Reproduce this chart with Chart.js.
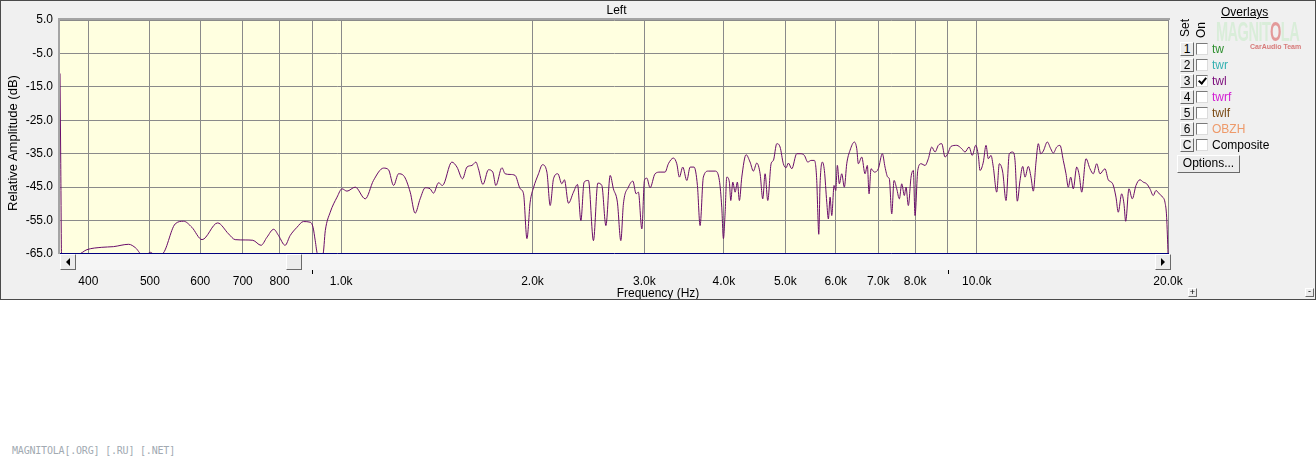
<!DOCTYPE html>
<html>
<head>
<meta charset="utf-8">
<script src="https://cdn.jsdelivr.net/npm/chart.js@4.4.0/dist/chart.umd.min.js"></script>
<style>
body { margin:0; background:#fff; font-family:"Liberation Sans", Arial, sans-serif; font-size:12px; color:#000; }
#wrap { position:relative; width:1316px; height:300px; background:#f0f0f0; overflow:hidden; }
#wrap canvas { position:absolute; left:0; top:0; }
.abs { position:absolute; white-space:nowrap; line-height:14px; }
.frame { position:absolute; left:0; top:0; width:1316px; height:300px; box-sizing:border-box; border:1px solid #4a4a4a; pointer-events:none; }
.btn { position:absolute; box-sizing:border-box; background:#ececec; border:1px solid; border-color:#fff #6a6a6a #6a6a6a #fff; text-align:center; }
.chk { position:absolute; box-sizing:border-box; width:12px; height:12px; background:#fff; border:1px solid; border-color:#7a7a7a #dcdcdc #dcdcdc #7a7a7a; }
.tick { position:absolute; left:3px; top:0px; width:3px; height:6px; border-right:2px solid #000; border-bottom:2px solid #000; transform:rotate(40deg); }
.rot { position:absolute; text-align:center; transform:rotate(-90deg); line-height:14px; white-space:nowrap; }
.tri { position:absolute; width:0; height:0; border-top:4px solid transparent; border-bottom:4px solid transparent; }
#mark { position:absolute; left:12px; top:445px; font-family:"DejaVu Sans Mono", monospace; font-size:10px; color:#a2aab2; letter-spacing:-0.2px; }
</style>
</head>
<body>
<div id="wrap">
  <canvas id="resp" width="1316" height="300"></canvas>

  <div class="abs" style="left:62px;width:1109px;top:3px;text-align:center;">Left</div>
  <div class="rot" style="left:-87px;top:136px;width:200px;height:14px;font-size:13px;">Relative Amplitude (dB)</div>
  <div class="abs" style="left:558px;width:200px;top:286px;text-align:center;">Frequency (Hz)</div>

  <!-- scrollbar under the plot -->
  <div class="abs" style="left:60px;top:254px;width:1110px;height:16px;background:#f5f5f5;"></div>
  <div class="btn" style="left:60px;top:254px;width:16px;height:16px;"><div class="tri" style="left:5px;top:3px;border-right:4px solid #000;"></div></div>
  <div class="btn" style="left:286px;top:254px;width:16px;height:16px;"></div>
  <div class="btn" style="left:1155px;top:254px;width:16px;height:16px;"><div class="tri" style="left:5px;top:3px;border-left:4px solid #000;"></div></div>

  <!-- overlays panel -->
  <div class="abs" style="left:1221px;top:5px;text-decoration:underline;">Overlays</div>
  <div class="abs" style="left:1216px;top:17px;font-size:27px;line-height:30px;font-weight:bold;color:#d9edd9;letter-spacing:-1px;transform:scaleX(0.54);transform-origin:left top;">MAGNIT<span style="color:#e39a9a">O</span>LA</div>
  <div class="abs" style="left:1250px;top:40px;font-size:7px;font-weight:bold;color:#d77a7a;">CarAudio Team</div>
  <div class="rot" style="left:1170px;top:21px;width:30px;height:14px;">Set</div>
  <div class="rot" style="left:1186px;top:23px;width:30px;height:14px;">On</div>
  <div id="rows"></div>
  <div class="btn" style="left:1177px;top:155px;width:63px;height:18px;line-height:15px;">Options...</div>
  <div class="btn" style="left:1188px;top:288px;width:9px;height:9px;font-size:9px;line-height:6px;">+</div>
  <div class="btn" style="left:1305px;top:288px;width:9px;height:9px;font-size:9px;line-height:5px;">-</div>

  <div class="frame"></div>
</div>
<div id="mark">MAGNITOLA[.ORG] [.RU] [.NET]</div>

<script>
// overlay list on the right
const overlayKeys = ['1', '2', '3', '4', '5', '6', 'C'];
const overlayNames = ['tw', 'twr', 'twl', 'twrf', 'twlf', 'OBZH', 'Composite'];
const overlayColors = ['#2f8f2f', '#34b0b0', '#7a0a7a', '#d21ed2', '#7a4a14', '#ee9a6a', '#000'];
const overlayOn = [false, false, true, false, false, false, false];

// x axis (Hz)
const xTicks = [400, 500, 600, 700, 800, 900, 1000, 2000, 3000, 4000, 5000, 6000, 7000, 8000, 9000, 10000, 20000];
const xLabels = ['400', '500', '600', '700', '800', '', '1.0k', '2.0k', '3.0k', '4.0k', '5.0k', '6.0k', '7.0k', '8.0k', '', '10.0k', '20.0k'];
const unlabeledMarks = [900, 9000];
// y axis (dB)
const yTicks = [5, -5, -15, -25, -35, -45, -55, -65];

// twl response
const freq = [
  361, 362, 363, 386, 398, 420, 438, 463, 475, 485, 495, 501, 507, 522, 548, 565, 582, 604, 639, 665,
  681, 706, 726, 748, 764, 783, 797, 816, 831, 852, 872, 894, 903, 910, 918, 936, 944, 961, 985, 1003,
  1021, 1052, 1091, 1124, 1166, 1187, 1209, 1231, 1253, 1284, 1307, 1331, 1356, 1380, 1397, 1423, 1443, 1493, 1521, 1552,
  1577, 1606, 1629, 1644, 1671, 1705, 1732, 1751, 1790, 1811, 1844, 1878, 1913, 1936, 1960, 1983, 2007, 2044, 2073, 2107,
  2132, 2158, 2192, 2224, 2245, 2278, 2320, 2354, 2383, 2411, 2449, 2494, 2534, 2571, 2609, 2650, 2681, 2720, 2754, 2780,
  2831, 2877, 2911, 2935, 2972, 3000, 3026, 3062, 3118, 3175, 3233, 3272, 3332, 3373, 3405, 3447, 3498, 3540, 3591, 3635,
  3670, 3714, 3782, 3875, 3936, 3970, 3994, 4018, 4043, 4081, 4102, 4132, 4167, 4201, 4232, 4269, 4336, 4399, 4452, 4507,
  4562, 4606, 4645, 4690, 4747, 4787, 4846, 4904, 4963, 5012, 5054, 5116, 5210, 5273, 5355, 5422, 5487, 5553, 5601, 5622,
  5642, 5669, 5716, 5758, 5808, 5842, 5878, 5914, 5964, 6000, 6035, 6079, 6132, 6190, 6244, 6319, 6419, 6475, 6512, 6593,
  6672, 6728, 6770, 6819, 6901, 7001, 7104, 7173, 7244, 7286, 7350, 7411, 7484, 7555, 7621, 7693, 7740, 7805, 7882, 7948,
  7997, 8076, 8173, 8292, 8392, 8496, 8598, 8701, 8809, 8915, 9002, 9111, 9301, 9471, 9585, 9725, 9841, 9963, 10058, 10120,
  10242, 10342, 10429, 10531, 10619, 10751, 10853, 10987, 11119, 11253, 11392, 11488, 11584, 11698, 11813, 11912, 12055, 12173, 12275, 12396,
  12500, 12609, 12728, 12914, 13074, 13198, 13361, 13522, 13684, 13819, 13934, 14056, 14189, 14365, 14501, 14628, 14857, 15074, 15255, 15444,
  15630, 15915, 16106, 16365, 16562, 16700, 16907, 17049, 17154, 17360, 17569, 17806, 18066, 18283, 18510, 18732, 18958, 19144, 19374, 19614,
  19778, 19900, 20000
];
const twl = [
  -11, -38, -65, -65, -63.7, -63.0, -62.8, -62.1, -63.2, -65, -65, -64.5, -65, -65, -56, -55.2, -57, -60.7, -55.7, -59,
  -60.7, -60.8, -60.9, -62.4, -60, -57.6, -59.5, -62.4, -59.5, -57, -55.3, -55.5, -57, -60.9, -65, -65, -58, -52.5, -48, -45.5,
  -46.2, -45, -48.5, -43, -39.3, -39.8, -44.5, -41, -41.5, -46.5, -52.8, -48.5, -45.2, -45.5, -46.8, -43.7, -44.5, -37.5, -39, -42.5,
  -39, -38.5, -37.5, -39.5, -44.2, -39.8, -40.5, -44.5, -39.2, -41, -41.2, -41.5, -45.5, -47, -60.4, -49.5, -45.2, -41, -38.3, -40.5,
  -50.5, -42.5, -41, -44, -42.8, -49.8, -46.5, -44.2, -55, -43.5, -43, -61, -43.8, -44.5, -56.5, -41.5, -45.5, -49.5, -61, -50,
  -45, -43.2, -47, -46.5, -57.5, -43, -42.3, -45.2, -41, -40.5, -40.5, -38, -36.3, -38, -42, -39, -43, -39, -39, -44.5,
  -56.5, -42, -40.2, -40.2, -43, -51, -60.4, -53, -42, -43.5, -49, -43.5, -46.5, -43.5, -49, -42, -35.3, -37.5, -40.2, -37.8,
  -41, -48.5, -41, -49, -38, -37, -32, -33, -38, -39.2, -37.8, -39.5, -35, -35, -35.5, -37.5, -37, -37, -43, -52.5,
  -59.1, -44, -37.5, -40, -49.5, -54.5, -48, -53.5, -44.5, -46, -38.5, -44, -41, -45, -38, -34, -31.5, -33.5, -38, -36,
  -41, -38.5, -47, -39.5, -40.5, -39.5, -35, -39, -42, -42.5, -53, -43, -45.5, -48.5, -44, -47.5, -45, -50.5, -42, -40,
  -53.5, -40, -38, -38.5, -36.5, -33, -34.5, -32.5, -32, -36, -35, -32.8, -32.5, -33.5, -34.5, -33, -35.5, -32.5, -35.5, -40,
  -37.5, -32.5, -36.5, -35.5, -39, -46.5, -38, -40.5, -49, -35, -34.5, -37, -49.2, -43, -38.8, -42, -38.8, -42, -46.2, -37.5,
  -32, -35, -34.2, -31.5, -33.5, -34.8, -33, -32.5, -37, -41, -45, -42, -45.5, -39, -41.5, -46.5, -36.5, -39.5, -41, -38,
  -41, -39.5, -42.8, -44, -48, -52.5, -47, -50, -55.2, -45.5, -48.5, -44.5, -42.8, -43.5, -44, -45.5, -47.5, -46, -47, -48,
  -49.5, -54, -65
];

// build the overlay rows
const rows = document.getElementById('rows');
overlayKeys.forEach((k, i) => {
  const top = 42 + i * 16;
  rows.insertAdjacentHTML('beforeend',
    `<div class="btn" style="left:1180px;top:${top}px;width:14px;height:14px;line-height:12px;font-size:12px;">${k}</div>` +
    `<div class="chk" style="left:1196px;top:${top + 1}px;">${overlayOn[i] ? '<div class="tick"></div>' : ''}</div>` +
    `<div class="abs" style="left:1212px;top:${top}px;color:${overlayColors[i]};">${overlayNames[i]}</div>`);
});

const FONT = { family: '"Liberation Sans", Arial, sans-serif', size: 12 };

const plotDecor = {
  id: 'plotDecor',
  beforeDraw(chart) {
    const { ctx, chartArea: a } = chart;
    ctx.save();
    ctx.fillStyle = '#ffffe0';
    ctx.fillRect(a.left, a.top, a.right - a.left, a.bottom - a.top);
    ctx.restore();
  },
  afterDraw(chart) {
    const { ctx, chartArea: a } = chart;
    const xs = chart.scales.x;
    ctx.save();
    // frame top / left
    ctx.strokeStyle = '#a4a4a4';
    ctx.lineWidth = 2;
    ctx.beginPath();
    ctx.moveTo(a.left - 1, a.bottom);
    ctx.lineTo(a.left - 1, a.top - 1);
    ctx.lineTo(a.right + 1, a.top - 1);
    ctx.stroke();
    // blue floor line
    ctx.strokeStyle = '#000080';
    ctx.lineWidth = 1;
    ctx.beginPath();
    ctx.moveTo(a.left, a.bottom - 0.5);
    ctx.lineTo(a.right, a.bottom - 0.5);
    ctx.stroke();
    // small marks for the unlabeled grid values
    ctx.strokeStyle = '#000';
    ctx.beginPath();
    unlabeledMarks.forEach(v => {
      const px = Math.round(xs.getPixelForValue(v)) + 0.5;
      ctx.moveTo(px, a.bottom + 16);
      ctx.lineTo(px, a.bottom + 20);
    });
    ctx.stroke();
    ctx.restore();
  }
};

new Chart(document.getElementById('resp'), {
  type: 'line',
  data: {
    datasets: [{
      label: 'twl',
      data: freq.map((f, i) => ({ x: f, y: twl[i] })),
      borderColor: '#6a0d6a',
      borderWidth: 1,
      pointRadius: 0,
      cubicInterpolationMode: 'monotone',
      fill: false
    }]
  },
  options: {
    responsive: false,
    animation: false,
    events: [],
    layout: { padding: { left: 0, right: 147, top: 20, bottom: 0 } },
    plugins: { legend: { display: false }, tooltip: { enabled: false } },
    scales: {
      x: {
        type: 'logarithmic',
        min: 361,
        max: 20070,
        afterFit: s => { s.height = 46; },
        afterBuildTicks: s => { s.ticks = xTicks.map(v => ({ value: v })); },
        grid: { color: '#8a8a8a', drawTicks: false },
        border: { display: false },
        ticks: {
          autoSkip: false, maxRotation: 0, padding: 20, color: '#000', font: FONT,
          callback: (v, i) => xLabels[i]
        }
      },
      y: {
        min: -65,
        max: 5,
        afterFit: s => { s.width = 60; },
        afterBuildTicks: s => { s.ticks = yTicks.map(v => ({ value: v })); },
        grid: { color: '#8a8a8a', drawTicks: false },
        border: { display: false },
        ticks: { padding: 7, color: '#000', font: FONT, callback: v => Number(v).toFixed(1) }
      }
    }
  },
  plugins: [plotDecor]
});
</script>
</body>
</html>
